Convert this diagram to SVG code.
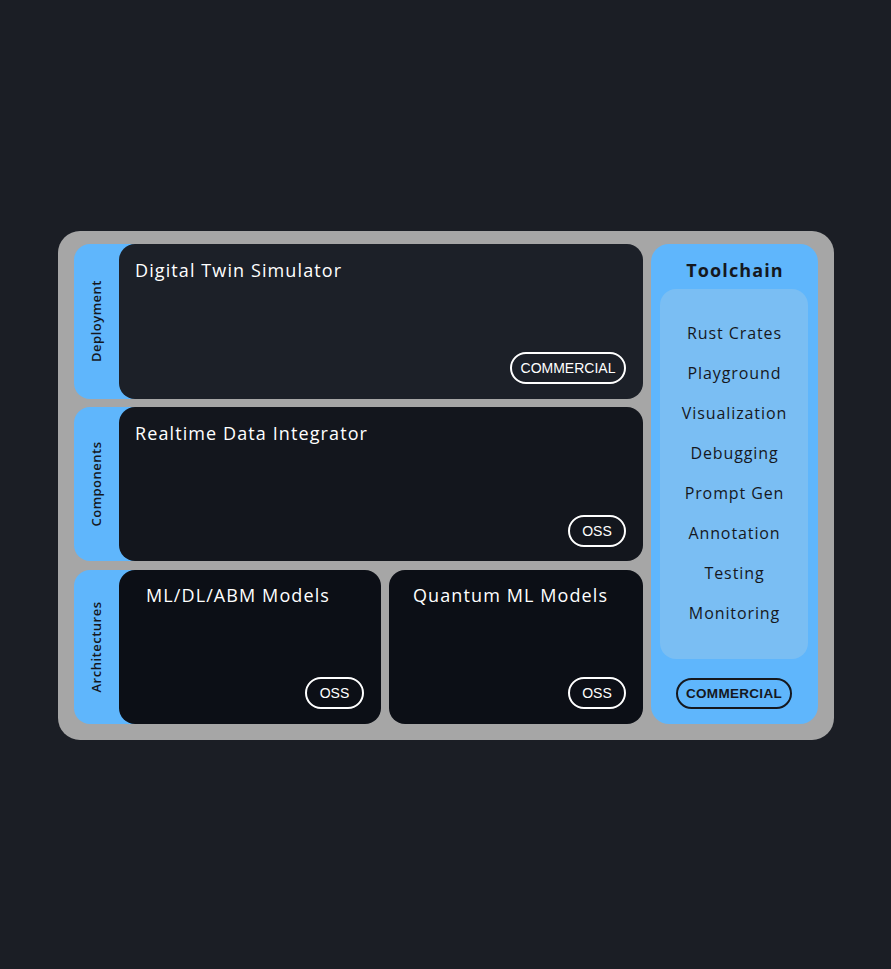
<svg xmlns="http://www.w3.org/2000/svg" width="891" height="969" viewBox="0 0 891 969">
<style>
.t{font-family:"Open Sans","Noto Sans",sans-serif;fill:#ffffff;font-size:18px;letter-spacing:1.1px}
.lab{font-family:"Open Sans","Noto Sans",sans-serif;fill:#15181e;font-size:13px;font-weight:600;letter-spacing:0.5px}
.item{font-family:"Open Sans","Noto Sans",sans-serif;fill:#15181e;font-size:16px;text-anchor:middle;letter-spacing:0.9px}
.badge{fill:none;stroke:#ffffff;stroke-width:2}
.bt{font-family:"Liberation Sans",Arial,sans-serif;fill:#ffffff;font-size:14px;text-anchor:middle}
.blue{fill:#5fb6fc}
</style>
<rect width="891" height="969" fill="#1b1e25"/>
<rect x="58" y="231" width="776" height="509" rx="22" fill="#a6a6a6"/>
<g id="deployment">
<rect class="blue" x="74" y="244" width="80" height="155" rx="16"/>
<text class="lab" transform="translate(101,321) rotate(-90)" text-anchor="middle">Deployment</text>
<rect x="119" y="244" width="524" height="155" rx="16" fill="#1c2028"/>
<text class="t" x="135" y="277">Digital Twin Simulator</text>
<rect class="badge" x="511" y="353" width="114" height="30" rx="15"/>
<text class="bt" x="568" y="373">COMMERCIAL</text>
</g>
<g id="components">
<rect class="blue" x="74" y="407" width="80" height="154" rx="16"/>
<text class="lab" transform="translate(101,484) rotate(-90)" text-anchor="middle">Components</text>
<rect x="119" y="407" width="524" height="154" rx="16" fill="#13161d"/>
<text class="t" x="135" y="440">Realtime Data Integrator</text>
<rect class="badge" x="569" y="516" width="56" height="30" rx="15"/>
<text class="bt" x="597" y="536">OSS</text>
</g>
<g id="architectures">
<rect class="blue" x="74" y="570" width="80" height="154" rx="16"/>
<text class="lab" transform="translate(101,647) rotate(-90)" text-anchor="middle">Architectures</text>
<rect x="119" y="570" width="262" height="154" rx="16" fill="#0c0f16"/>
<text class="t" x="146" y="602">ML/DL/ABM Models</text>
<rect class="badge" x="306" y="678" width="57" height="30" rx="15"/>
<text class="bt" x="334.5" y="698">OSS</text>
<rect x="389" y="570" width="254" height="154" rx="16" fill="#0c0f16"/>
<text class="t" x="413" y="602">Quantum ML Models</text>
<rect class="badge" x="569" y="678" width="56" height="30" rx="15"/>
<text class="bt" x="597" y="698">OSS</text>
</g>
<g id="toolchain">
<rect class="blue" x="651" y="244" width="167" height="480" rx="18"/>
<text x="735" y="277" text-anchor="middle" style="font-family:'Open Sans','Noto Sans',sans-serif;font-weight:700;font-size:18px;fill:#15181e;letter-spacing:1.1px">Toolchain</text>
<rect x="660" y="289" width="148" height="370" rx="16" fill="#7abef3"/>
<text class="item" x="734.5" y="339">Rust Crates</text>
<text class="item" x="734.5" y="379">Playground</text>
<text class="item" x="734.5" y="419">Visualization</text>
<text class="item" x="734.5" y="459">Debugging</text>
<text class="item" x="734.5" y="499">Prompt Gen</text>
<text class="item" x="734.5" y="539">Annotation</text>
<text class="item" x="734.5" y="579">Testing</text>
<text class="item" x="734.5" y="619">Monitoring</text>
<rect x="677" y="679" width="114" height="29" rx="14.5" fill="none" stroke="#15181e" stroke-width="2"/>
<text x="734" y="698" text-anchor="middle" style="font-family:'Liberation Sans',Arial,sans-serif;font-weight:700;font-size:13.5px;fill:#15181e;letter-spacing:0.3px">COMMERCIAL</text>
</g>
<g id="connectors"/>
</svg>
